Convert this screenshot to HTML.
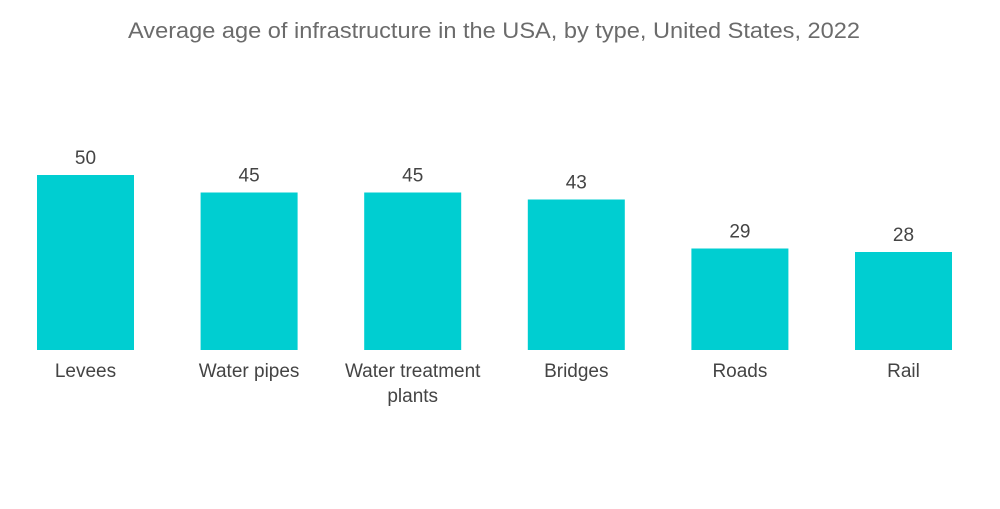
<!DOCTYPE html>
<html><head><meta charset="utf-8"><style>
body{margin:0;background:#fff;width:1000px;height:504px;overflow:hidden;font-family:"Liberation Sans",sans-serif}
</style></head><body>
<svg id="chart" width="1000" height="504" xmlns="http://www.w3.org/2000/svg">
<text x="494" y="38" text-anchor="middle" font-size="22" textLength="732" lengthAdjust="spacingAndGlyphs" fill="#6b6b6b" font-family="Liberation Sans, sans-serif">Average age of infrastructure in the USA, by type, United States, 2022</text>
<g id="bars"></g>
</svg>
<script>
const categories=[["Levees"],["Water pipes"],["Water treatment","plants"],["Bridges"],["Roads"],["Rail"]];
const values=[50,45,45,43,29,28];
const baseY=350, pxPerUnit=3.5, x0=85.5, step=163.6, barW=97;
function xScale(i){return x0+i*step;}
function yScale(v){return baseY-v*pxPerUnit;}
const ns="http://www.w3.org/2000/svg";
const g=document.getElementById('bars');
values.forEach((v,i)=>{
  const cx=xScale(i);
  const r=document.createElementNS(ns,'rect');
  r.setAttribute('x',cx-barW/2);r.setAttribute('y',yScale(v));
  r.setAttribute('width',barW);r.setAttribute('height',baseY-yScale(v));
  r.setAttribute('fill','#00ced1');
  
  
  g.appendChild(r);
  const t=document.createElementNS(ns,'text');
  t.setAttribute('x',cx);t.setAttribute('y',yScale(v)-11);
  t.setAttribute('text-anchor','middle');t.setAttribute('font-size','19');t.setAttribute('fill','#444');
  t.textContent=v;
  
  
  g.appendChild(t);
  categories[i].forEach((line,j)=>{
    const c=document.createElementNS(ns,'text');
    c.setAttribute('x',cx);c.setAttribute('y',377+j*25);
    c.setAttribute('text-anchor','middle');c.setAttribute('font-size','19');c.setAttribute('fill','#444');
    c.textContent=line;
    
    
    g.appendChild(c);
  });
});
</script>
</body></html>
